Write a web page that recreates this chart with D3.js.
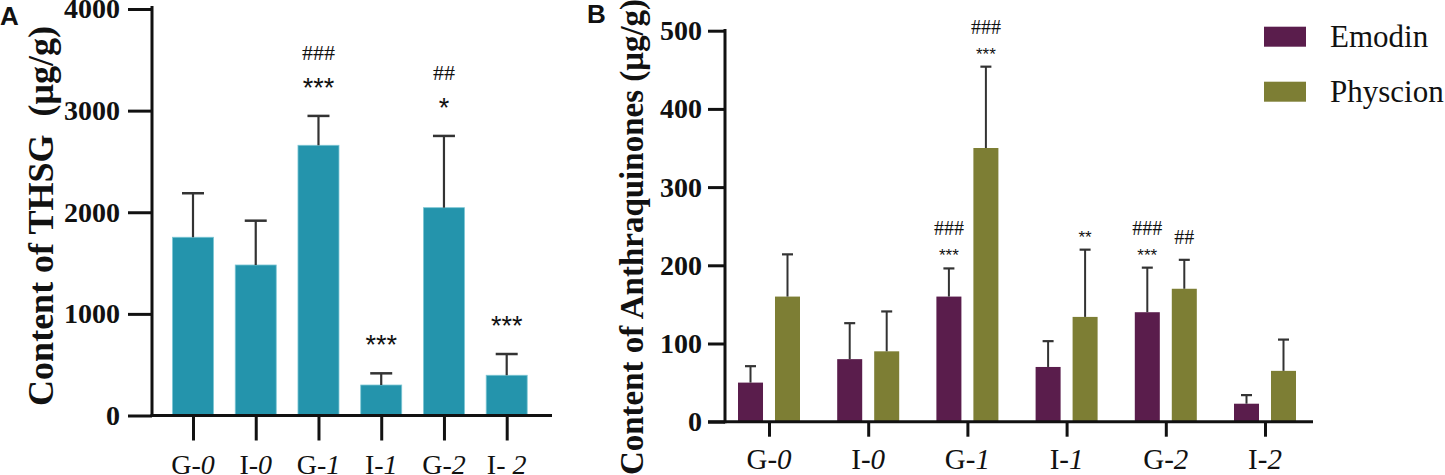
<!DOCTYPE html>
<html>
<head>
<meta charset="UTF-8" />
<script src="https://d3js.org/d3.v7.min.js"></script>
<style>
  body { margin: 0; background: #fff; }
  svg { display: block; }
</style>
</head>
<body>
<svg width="1445" height="475"></svg>
<script>
// ---- data ----
const groups = ["G-0", "I-0", "G-1", "I-1", "G-2", "I-2"];
const labelsA = ["G-0", "I-0", "G-1", "I-1", "G-2", "I- 2"];

// panel A: THSG content
const thsg = [1754, 1481, 2659, 300, 2045, 396];
const thsgErr = [2187, 1917, 2948, 415, 2751, 605];
const thsgStars = ["", "", "***", "***", "*", "***"];
const thsgHash = ["", "", "###", "", "##", ""];
const ticksA = [0, 1000, 2000, 3000, 4000];

// panel B: anthraquinones
const series = ["Emodin", "Physcion"];
const emodin = [50, 80, 160, 70, 140, 23];
const emodinErr = [71, 126, 196, 103, 197, 34];
const physcion = [160, 90, 350, 134, 170, 65];
const physcionErr = [214, 141, 454, 220, 207, 105];
const emodinStars = ["", "", "***", "", "***", ""];
const emodinHash = ["", "", "###", "", "###", ""];
const physcionStars = ["", "", "***", "**", "", ""];
const physcionHash = ["", "", "###", "", "##", ""];
const ticksB = [0, 100, 200, 300, 400, 500];

const teal = "#2494ac";
const colors = { Emodin: "#5a1d4c", Physcion: "#7d7e34" };
const serif = "'Liberation Serif', 'Times New Roman', serif";
const sans = "'Liberation Sans', Arial, sans-serif";

const svg = d3.select("svg");

// split "G-0" into prefix + italic number
function catLabel(sel, text, x, y, size) {
  const t = sel.append("text")
    .attr("x", x).attr("y", y)
    .attr("text-anchor", "middle")
    .style("font-family", serif)
    .style("font-size", size + "px")
    .attr("fill", "#111");
  t.append("tspan").text(text.slice(0, -1));
  t.append("tspan").style("font-style", "italic").text(text.slice(-1));
}

function styleAxis(g, fontSize) {
  g.select(".domain").remove();
  g.selectAll(".tick line").attr("stroke", "#111").attr("stroke-width", 3);
  g.selectAll(".tick text")
    .style("font-family", serif)
    .style("font-weight", "bold")
    .style("font-size", fontSize + "px")
    .attr("fill", "#111");
}

// ================= Panel A =================
{
  const x0 = 152, x1 = 552;
  const y = d3.scaleLinear().domain([0, 4000]).range([415.5, 9]);
  const x = d3.scalePoint().domain(groups).range([193, 506.7]);
  const bw = 41;
  const g = svg.append("g");

  // bars
  g.selectAll("rect.bar").data(groups).join("rect")
    .attr("x", d => x(d) - bw / 2)
    .attr("y", (d, i) => y(thsg[i]))
    .attr("width", bw)
    .attr("height", (d, i) => y(0) - y(thsg[i]))
    .attr("fill", teal)
    .attr("stroke", "#7cc6d4")
    .attr("stroke-width", 0.8);

  // error bars (upper only)
  groups.forEach((d, i) => {
    const cx = x(d);
    g.append("line").attr("x1", cx).attr("x2", cx)
      .attr("y1", y(thsg[i])).attr("y2", y(thsgErr[i]))
      .attr("stroke", "#333").attr("stroke-width", 2.2);
    g.append("line").attr("x1", cx - 11).attr("x2", cx + 11)
      .attr("y1", y(thsgErr[i])).attr("y2", y(thsgErr[i]))
      .attr("stroke", "#333").attr("stroke-width", 2.5);

    // significance marks
    const top = y(thsgErr[i]);
    if (thsgStars[i]) {
      g.append("text").attr("x", cx).attr("y", top - 34 + 15)
        .attr("text-anchor", "middle")
        .style("font-family", sans).style("font-size", "27px")
        .attr("fill", "#111").text(thsgStars[i]);
    }
    if (thsgHash[i]) {
      g.append("text").attr("x", cx).attr("y", top - 64 + 8)
        .attr("text-anchor", "middle")
        .style("font-family", serif).style("font-size", "22px")
        .attr("fill", "#111").text(thsgHash[i]);
    }
  });

  // y axis
  const ya = g.append("g").attr("transform", `translate(${x0},0)`)
    .call(d3.axisLeft(y).tickValues(ticksA).tickFormat(d3.format("d"))
      .tickSize(24).tickPadding(8).tickSizeOuter(0));
  styleAxis(ya, 28);
  g.append("line").attr("x1", x0).attr("x2", x0).attr("y1", 6).attr("y2", y(0) + 1.5)
    .attr("stroke", "#111").attr("stroke-width", 3);

  // x axis
  const xa = g.append("g").attr("transform", `translate(0,${y(0)})`)
    .call(d3.axisBottom(x).tickSize(25).tickFormat(""));
  styleAxis(xa, 28);
  g.append("line").attr("x1", x0 - 1.5).attr("x2", x1).attr("y1", y(0)).attr("y2", y(0))
    .attr("stroke", "#111").attr("stroke-width", 3);
  labelsA.forEach((d, i) => catLabel(g, d, x(groups[i]), 474, 28));

  // y title
  g.append("text")
    .attr("transform", "translate(53,216) rotate(-90)")
    .attr("text-anchor", "middle")
    .style("font-family", serif).style("font-weight", "bold")
    .style("font-size", "36px").attr("fill", "#111")
    .text("Content of THSG\u00a0\u00a0(\u03bcg/g)");

  // panel letter
  g.append("text").attr("x", 0).attr("y", 25)
    .style("font-family", sans).style("font-weight", "bold")
    .style("font-size", "26px").attr("fill", "#111").text("A");
}

// ================= Panel B =================
{
  const x0 = 725, x1 = 1313;
  const y = d3.scaleLinear().domain([0, 500]).range([421.7, 30.7]);
  const x = d3.scalePoint().domain(groups).range([769, 1265]);
  const xs = d3.scaleBand().domain(series).range([-31, 31]).paddingInner(0.324);
  const g = svg.append("g");

  const vals = { Emodin: emodin, Physcion: physcion };
  const errs = { Emodin: emodinErr, Physcion: physcionErr };
  const stars = { Emodin: emodinStars, Physcion: physcionStars };
  const hashes = { Emodin: emodinHash, Physcion: physcionHash };

  series.forEach(s => {
    groups.forEach((d, i) => {
      const bx = x(d) + xs(s);
      const cx = bx + xs.bandwidth() / 2;
      g.append("rect")
        .attr("x", bx).attr("y", y(vals[s][i]))
        .attr("width", xs.bandwidth())
        .attr("height", y(0) - y(vals[s][i]))
        .attr("fill", colors[s]);
      const top = y(errs[s][i]);
      g.append("line").attr("x1", cx).attr("x2", cx)
        .attr("y1", y(vals[s][i])).attr("y2", top)
        .attr("stroke", "#333").attr("stroke-width", 2);
      g.append("line").attr("x1", cx - 5.5).attr("x2", cx + 5.5)
        .attr("y1", top).attr("y2", top)
        .attr("stroke", "#333").attr("stroke-width", 2.2);

      let off = 0;
      if (stars[s][i]) {
        off = 17;
        g.append("text").attr("x", cx).attr("y", top - off + 10)
          .attr("text-anchor", "middle")
          .style("font-family", sans).style("font-size", "17px")
          .attr("fill", "#111").text(stars[s][i]);
      }
      if (hashes[s][i]) {
        off += 23;
        g.append("text").attr("x", cx).attr("y", top - off + 7)
          .attr("text-anchor", "middle")
          .style("font-family", serif).style("font-size", "20px")
          .attr("fill", "#111").text(hashes[s][i]);
      }
    });
  });

  // y axis
  const ya = g.append("g").attr("transform", `translate(${x0},0)`)
    .call(d3.axisLeft(y).tickValues(ticksB).tickFormat(d3.format("d"))
      .tickSize(17).tickPadding(6).tickSizeOuter(0));
  styleAxis(ya, 28);
  g.append("line").attr("x1", x0).attr("x2", x0).attr("y1", 29).attr("y2", y(0) + 1.5)
    .attr("stroke", "#111").attr("stroke-width", 3);

  // x axis
  const xa = g.append("g").attr("transform", `translate(0,${y(0)})`)
    .call(d3.axisBottom(x).tickSize(15).tickFormat(""));
  styleAxis(xa, 28);
  g.append("line").attr("x1", x0 - 17).attr("x2", x1).attr("y1", y(0)).attr("y2", y(0))
    .attr("stroke", "#111").attr("stroke-width", 3);
  groups.forEach(d => catLabel(g, d, x(d), 469, 29));

  // y title
  g.append("text")
    .attr("transform", "translate(643,237) rotate(-90)")
    .attr("text-anchor", "middle")
    .style("font-family", serif).style("font-weight", "bold")
    .style("font-size", "33px").attr("fill", "#111")
    .text("Content of Anthraquinones (\u03bcg/g)");

  // panel letter
  g.append("text").attr("x", 587).attr("y", 23)
    .style("font-family", sans).style("font-weight", "bold")
    .style("font-size", "26px").attr("fill", "#111").text("B");

  // legend
  const leg = g.append("g");
  series.forEach((s, i) => {
    const ly = 26.7 + i * 55;
    leg.append("rect").attr("x", 1264).attr("y", ly)
      .attr("width", 42).attr("height", 20).attr("fill", colors[s]);
    leg.append("text").attr("x", 1330).attr("y", ly + 20)
      .style("font-family", serif).style("font-size", "31px")
      .attr("fill", "#111").text(s);
  });
}
</script>
</body>
</html>
